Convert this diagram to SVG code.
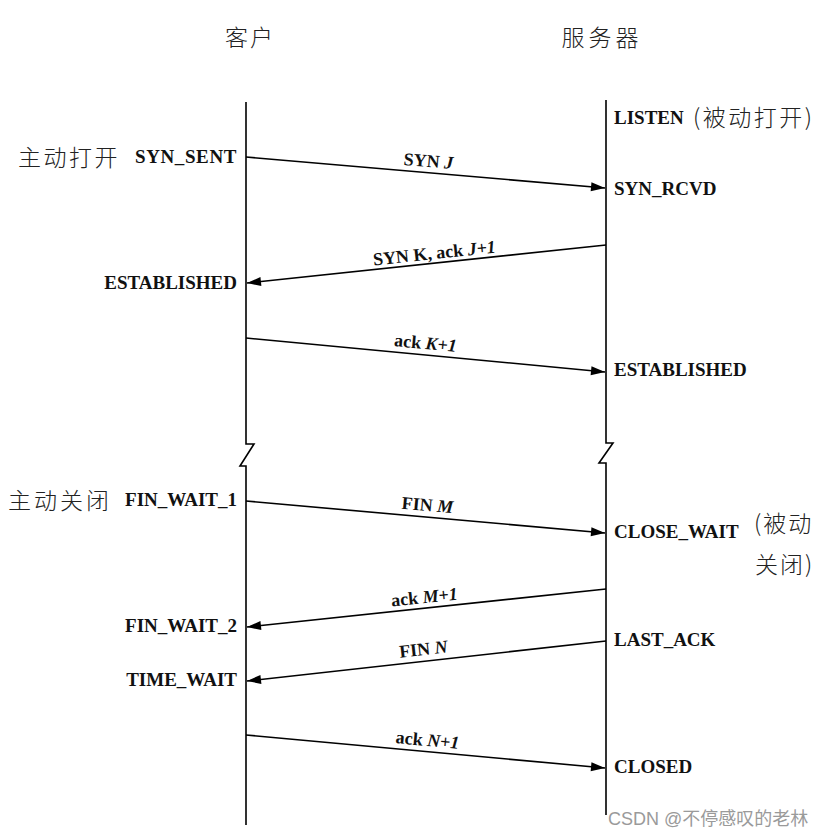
<svg xmlns="http://www.w3.org/2000/svg" width="833" height="840" viewBox="0 0 833 840">
<defs>
<marker id="ah" markerUnits="userSpaceOnUse" markerWidth="16" markerHeight="12" refX="15" refY="6" orient="auto">
<path d="M1,1.5 L15,6 L1,10.5 Z" fill="#000"/>
</marker>
<style>
.st{font-family:"Liberation Serif","DejaVu Serif",serif;font-size:19px;font-weight:bold;fill:#111;}
.lb{font-family:"Liberation Serif","DejaVu Serif",serif;font-size:18px;font-weight:bold;fill:#111;}
.it{font-style:italic;}
.cn{font-family:"Noto Sans CJK SC",sans-serif;font-size:23px;fill:#222;font-weight:300;}
.life{fill:none;stroke:#000;stroke-width:1.6;}
.msg{fill:none;stroke:#000;stroke-width:1.6;marker-end:url(#ah);}
.wm{font-family:"Liberation Sans","Noto Sans CJK SC",sans-serif;font-size:18px;fill:#9a9a9a;}
</style>
</defs>
<rect width="833" height="840" fill="#fff"/>

<g id="client">
<text class="cn" x="250" y="46" text-anchor="middle" font-size="25" letter-spacing="2">客户</text>
<path class="life" d="M246,102 V444 H254 L240,466 H246 V825"/>
</g>
<g id="server">
<text class="cn" x="602" y="46" text-anchor="middle" font-size="25" letter-spacing="4">服务器</text>
<path class="life" d="M606,100 V443 H613 L599,463 H606 V815"/>
</g>

<g id="client-states">
<text class="cn" x="18" y="166" letter-spacing="2.5">主动打开</text>
<text class="st" x="237" y="163" text-anchor="end" letter-spacing="0.6">SYN_SENT</text>
<text class="st" x="237" y="289" text-anchor="end">ESTABLISHED</text>
<text class="cn" x="8" y="509" letter-spacing="3">主动关闭</text>
<text class="st" x="237" y="506" text-anchor="end">FIN_WAIT_1</text>
<text class="st" x="237" y="632" text-anchor="end">FIN_WAIT_2</text>
<text class="st" x="237" y="686" text-anchor="end">TIME_WAIT</text>
</g>

<g id="server-states">
<text class="st" x="614" y="124">LISTEN</text>
<text class="cn" x="693" y="126" font-size="24" letter-spacing="2.5">(被动打开)</text>
<text class="st" x="614" y="195">SYN_RCVD</text>
<text class="st" x="614" y="376">ESTABLISHED</text>
<text class="st" x="614" y="538">CLOSE_WAIT</text>
<text class="cn" x="754" y="532" font-size="24" letter-spacing="2">(被动</text>
<text class="cn" x="755" y="573" font-size="24" letter-spacing="2">关闭)</text>
<text class="st" x="614" y="646">LAST_ACK</text>
<text class="st" x="614" y="773">CLOSED</text>
</g>

<g id="connectors">
<line class="msg" x1="246" y1="157" x2="605" y2="188"/>
<text class="lb" transform="translate(428,167) rotate(4.9)" text-anchor="middle">SYN <tspan class="it">J</tspan></text>

<line class="msg" x1="606" y1="245" x2="247" y2="283"/>
<text class="lb" transform="translate(435,259) rotate(-6)" text-anchor="middle">SYN K, ack <tspan class="it">J+1</tspan></text>

<line class="msg" x1="246" y1="338" x2="605" y2="372"/>
<text class="lb" transform="translate(425,349) rotate(5.4)" text-anchor="middle">ack <tspan class="it">K+1</tspan></text>

<line class="msg" x1="246" y1="501" x2="605" y2="533"/>
<text class="lb" transform="translate(427,511) rotate(5.1)" text-anchor="middle">FIN <tspan class="it">M</tspan></text>

<line class="msg" x1="606" y1="589" x2="247" y2="627"/>
<text class="lb" transform="translate(425,603) rotate(-6)" text-anchor="middle">ack <tspan class="it">M+1</tspan></text>

<line class="msg" x1="606" y1="641" x2="247" y2="681"/>
<text class="lb" transform="translate(424,655) rotate(-6.3)" text-anchor="middle">FIN <tspan class="it">N</tspan></text>

<line class="msg" x1="246" y1="735" x2="605" y2="768"/>
<text class="lb" transform="translate(427,746) rotate(5.2)" text-anchor="middle">ack <tspan class="it">N+1</tspan></text>
</g>

<text class="wm" x="608" y="825">CSDN @不停感叹的老林</text>
</svg>
